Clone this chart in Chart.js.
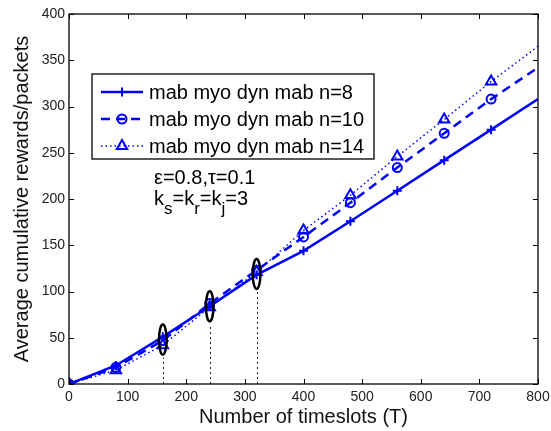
<!DOCTYPE html>
<html>
<head>
<meta charset="utf-8">
<script src="https://cdn.jsdelivr.net/npm/chart.js@4"></script>
<style>
  body { margin: 0; background: #fff; }
  canvas { display: block; }
</style>
</head>
<body>
<canvas id="rewardChart" width="551" height="431"></canvas>
<script>
// timeslots and average cumulative rewards for each n
const timeslots = [0, 80, 160, 240, 320, 400, 480, 560, 640, 720, 800];
const rewardsN8 = [0, 20, 51, 84, 118, 144, 176, 209, 242, 275, 308];
const rewardsN10 = [0, 18, 47, 87, 123, 159, 196, 234, 271, 308, 342];
const rewardsN14 = [0, 15, 42, 83, 121, 166, 204, 246, 286, 327, 365];
const seriesLabels = ['mab myo dyn mab n=8', 'mab myo dyn mab n=10', 'mab myo dyn mab n=14'];
const xTicks = [0, 100, 200, 300, 400, 500, 600, 700, 800];
const yTicks = [0, 50, 100, 150, 200, 250, 300, 350, 400];

// highlighted crossing points (ellipse centres)
const markX = [160, 240, 320];
const markY = [48, 84, 119];

const BLUE = '#0000ff';
const FONT = '"Liberation Sans", Arial, Helvetica, sans-serif';

function toPoints(ys) {
  return timeslots.map((t, i) => ({ x: t, y: ys[i] }));
}
// no marker on the last sample (line end)
const markerRadius = (r) => timeslots.map((t, i) => (i === timeslots.length - 1 ? 0 : r));

// box, inward ticks, ellipses and dotted drop lines
const framePlugin = {
  id: 'frame',
  afterDatasetsDraw(chart) {
    const { ctx, chartArea: a, scales: { x, y } } = chart;
    ctx.save();

    // dotted drops and ellipses
    const ry = 15, rx = 3.8;
    for (let i = 0; i < markX.length; i++) {
      const px = x.getPixelForValue(markX[i]);
      const py = y.getPixelForValue(markY[i]);
      ctx.strokeStyle = '#222';
      ctx.lineWidth = 1;
      ctx.setLineDash([2, 3]);
      ctx.beginPath();
      ctx.moveTo(Math.round(px) + 0.5, a.bottom);
      ctx.lineTo(Math.round(px) + 0.5, py + ry + 3);
      ctx.stroke();
      ctx.setLineDash([]);
      ctx.strokeStyle = '#000';
      ctx.lineWidth = 2.5;
      ctx.beginPath();
      ctx.ellipse(px, py, rx, ry, 0, 0, Math.PI * 2);
      ctx.stroke();
    }

    // axes box
    ctx.strokeStyle = '#000';
    ctx.lineWidth = 1.3;
    ctx.strokeRect(a.left, a.top, a.right - a.left, a.bottom - a.top);

    // tick marks pointing inwards on all four sides
    const len = 5;
    ctx.lineWidth = 1;
    ctx.beginPath();
    xTicks.forEach(v => {
      const px = Math.round(x.getPixelForValue(v)) + 0.5;
      ctx.moveTo(px, a.bottom); ctx.lineTo(px, a.bottom - len);
      ctx.moveTo(px, a.top); ctx.lineTo(px, a.top + len);
    });
    yTicks.forEach(v => {
      const py = Math.round(y.getPixelForValue(v)) + 0.5;
      ctx.moveTo(a.left, py); ctx.lineTo(a.left + len, py);
      ctx.moveTo(a.right, py); ctx.lineTo(a.right - len, py);
    });
    ctx.stroke();
    ctx.restore();
  },
  afterDraw(chart) {
    const { ctx } = chart;
    ctx.save();

    // legend box
    const box = { l: 92, t: 74, r: 374, b: 159 };
    ctx.fillStyle = '#fff';
    ctx.fillRect(box.l, box.t, box.r - box.l, box.b - box.t);
    ctx.strokeStyle = '#000';
    ctx.lineWidth = 1.3;
    ctx.strokeRect(box.l, box.t, box.r - box.l, box.b - box.t);

    const rowY = [92, 119, 146];
    chart.data.datasets.forEach((ds, i) => {
      const yy = rowY[i];
      ctx.strokeStyle = ds.borderColor;
      ctx.lineWidth = ds.borderWidth;
      ctx.setLineDash(ds.borderDash || []);
      ctx.beginPath();
      ctx.moveTo(101, yy);
      ctx.lineTo(143, yy);
      ctx.stroke();
      ctx.setLineDash([]);
      ctx.fillStyle = 'rgba(0,0,0,0)';
      ctx.lineWidth = ds.pointBorderWidth;
      Chart.helpers.drawPoint(ctx, {
        pointStyle: ds.pointStyle,
        radius: ds.legendRadius,
        rotation: 0,
        borderWidth: ds.pointBorderWidth
      }, 122, yy);
      ctx.fillStyle = '#000';
      ctx.font = '20px ' + FONT;
      ctx.textBaseline = 'middle';
      ctx.textAlign = 'left';
      ctx.fillText(ds.label, 149, yy + 1);
    });

    // parameter note
    ctx.fillStyle = '#000';
    ctx.textBaseline = 'middle';
    ctx.font = '20px ' + FONT;
    ctx.fillText('\u03b5=0.8,\u03c4=0.1', 154, 178);
    let cx = 154;
    const parts = [['k', 0], ['s', 1], ['=k', 0], ['r', 1], ['=k', 0], ['j', 1], ['=3', 0]];
    parts.forEach(([txt, sub]) => {
      ctx.font = (sub ? '17px ' : '20px ') + FONT;
      ctx.fillText(txt, cx, sub ? 209 : 199);
      cx += ctx.measureText(txt).width;
    });
    ctx.restore();
  }
};

new Chart(document.getElementById('rewardChart'), {
  type: 'line',
  data: {
    datasets: [
      {
        label: seriesLabels[0],
        data: toPoints(rewardsN8),
        borderColor: BLUE,
        backgroundColor: 'rgba(0,0,0,0)',
        borderWidth: 2.5,
        pointStyle: 'cross',
        pointRadius: markerRadius(4.5),
        pointBorderWidth: 2,
        pointBorderColor: BLUE,
        legendRadius: 4.5
      },
      {
        label: seriesLabels[1],
        data: toPoints(rewardsN10),
        borderColor: BLUE,
        backgroundColor: 'rgba(0,0,0,0)',
        borderWidth: 2.5,
        borderDash: [9, 6],
        pointStyle: 'circle',
        pointRadius: markerRadius(4.5),
        pointBorderWidth: 2,
        pointBorderColor: BLUE,
        pointBackgroundColor: 'rgba(0,0,0,0)',
        legendRadius: 4.5
      },
      {
        label: seriesLabels[2],
        data: toPoints(rewardsN14),
        borderColor: BLUE,
        backgroundColor: 'rgba(0,0,0,0)',
        borderWidth: 1.5,
        borderDash: [1.5, 3],
        pointStyle: 'triangle',
        pointRadius: markerRadius(6),
        pointBorderWidth: 2,
        pointBorderColor: BLUE,
        pointBackgroundColor: 'rgba(0,0,0,0)',
        legendRadius: 6
      }
    ]
  },
  options: {
    responsive: false,
    animation: false,
    events: [],
    layout: { padding: { top: 14, right: 13, left: 0, bottom: 0 } },
    plugins: {
      legend: { display: false },
      tooltip: { enabled: false }
    },
    elements: { line: { tension: 0 } },
    scales: {
      x: {
        type: 'linear',
        min: 0,
        max: 800,
        afterBuildTicks: (s) => { s.ticks = xTicks.map(v => ({ value: v })); },
        afterFit: (s) => { s.height = 47; s.paddingLeft = 0; s.paddingRight = 0; },
        grid: { display: false, drawTicks: false },
        border: { display: false },
        ticks: { color: '#222', font: { family: FONT, size: 14 }, padding: 5, maxRotation: 0 },
        title: {
          display: true,
          text: 'Number of timeslots (T)',
          color: '#111',
          font: { family: FONT, size: 20 },
          padding: { top: 0, bottom: 2 }
        }
      },
      y: {
        type: 'linear',
        min: 0,
        max: 400,
        afterBuildTicks: (s) => { s.ticks = yTicks.map(v => ({ value: v })); },
        afterFit: (s) => { s.width = 69; s.paddingTop = 0; s.paddingBottom = 0; },
        grid: { display: false, drawTicks: false },
        border: { display: false },
        ticks: { color: '#222', font: { family: FONT, size: 14 }, padding: 4 },
        title: {
          display: true,
          text: 'Average cumulative rewards/packets',
          color: '#111',
          font: { family: FONT, size: 20 },
          padding: { top: 10, bottom: 0 }
        }
      }
    }
  },
  plugins: [framePlugin]
});
</script>
</body>
</html>
